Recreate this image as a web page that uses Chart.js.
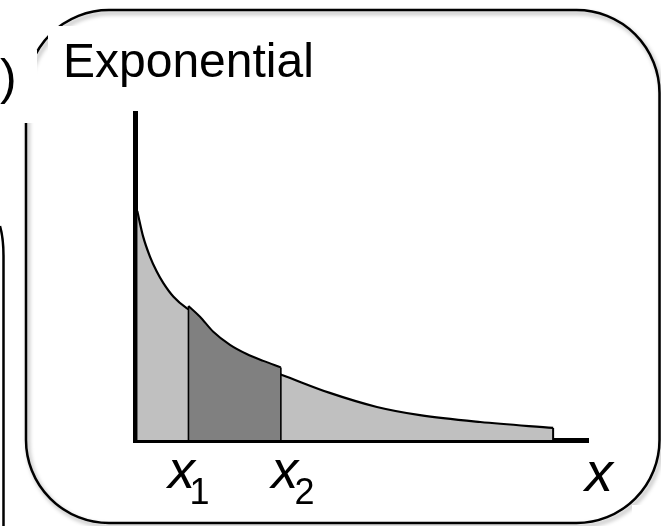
<!DOCTYPE html>
<html>
<head>
<meta charset="utf-8">
<script src="https://cdn.jsdelivr.net/npm/chart.js@4/dist/chart.umd.min.js"></script>
<style>
  html, body { margin: 0; padding: 0; background: #fff; }
  #wrap { position: relative; width: 661px; height: 526px; overflow: hidden; background: #fff;
          font-family: "Liberation Sans", Arial, sans-serif; color: #000; }
  #deco { position: absolute; left: 0; top: 0; z-index: 1; }
  #cv { position: absolute; left: 0; top: 0; z-index: 2; }
  .mask { position: absolute; background: #fff; z-index: 3; }
  .txt { position: absolute; z-index: 4; line-height: 1; white-space: nowrap; }
  .lbl { font-style: italic; }
  .sub { font-style: normal; }
</style>
</head>
<body>
<div id="wrap">
  <svg id="deco" width="661" height="526" viewBox="0 0 661 526">
    <defs>
      <filter id="sh" x="-5%" y="-5%" width="110%" height="110%">
        <feDropShadow dx="2" dy="3" stdDeviation="2" flood-color="#000" flood-opacity="0.35"/>
      </filter>
    </defs>
    <rect x="26" y="10" width="633.5" height="513" rx="83" ry="83" fill="none" stroke="#000" stroke-width="2.5" filter="url(#sh)"/>
    <path d="M 0 226 Q 3.5 238 3.5 256 L 3.5 526" fill="none" stroke="#000" stroke-width="2.5"/>
    <rect x="632" y="505" width="29" height="21" fill="#fff"/>
  </svg>
  <canvas id="cv" width="661" height="526"></canvas>
  <div class="mask" style="left:0;top:50px;width:37px;height:73px"></div>
  <div class="mask" style="left:48px;top:26px;width:280px;height:80px"></div>
  <div class="txt" style="left:0px;top:52px;font-size:50px">)</div>
  <div class="txt" id="title" style="left:63px;top:37px;font-size:48px">Exponential</div>
  <div id="labels"></div>
</div>
<script>
// ---- data ----
// light (whole) density curve
const curveX = [0.05, 0.18, 0.33, 0.48, 0.63, 0.85, 1.14, 1.18, 1.70, 2.40, 3.22, 3.26, 4.30, 5.34, 6.29, 7.62, 9.23];
const curveY = [0.700, 0.622, 0.561, 0.515, 0.479, 0.438, 0.403, 0.400, 0.318, 0.255, 0.200, 0.198, 0.144, 0.101, 0.076, 0.055, 0.037];
// dark slice between x1 and x2
const darkX = [1.18, 1.435, 1.728, 2.097, 2.466, 2.832, 3.22];
const darkY = [0.410, 0.377, 0.331, 0.291, 0.263, 0.242, 0.222];
const x1 = 1.18;
const x2 = 3.22;
const xEnd = 9.23;
const tickValues = [x1, x2, 10];
const tickMain = ['x', 'x', 'x'];
const tickSub = ['1', '2', ''];

const curve = curveX.map((x, i) => ({x: x, y: curveY[i]}));
const dark = darkX.map((x, i) => ({x: x, y: darkY[i]}));

const chart = new Chart(document.getElementById('cv'), {
  type: 'line',
  data: {
    datasets: [
      { data: curve, order: 5, fill: 'origin', backgroundColor: '#c0c0c0',
        borderColor: '#000', borderWidth: 2.2, pointRadius: 0, cubicInterpolationMode: 'monotone' },
      { data: dark, order: 4, fill: 'origin', backgroundColor: '#808080',
        borderColor: '#000', borderWidth: 2, pointRadius: 0, cubicInterpolationMode: 'monotone' },
      { data: [{x: x1, y: 0}, {x: x1, y: darkY[0]}], order: 1, fill: false,
        borderColor: '#000', borderWidth: 1.6, pointRadius: 0, tension: 0 },
      { data: [{x: x2, y: 0}, {x: x2, y: darkY[darkY.length - 1]}], order: 1, fill: false,
        borderColor: '#000', borderWidth: 1.6, pointRadius: 0, tension: 0 },
      { data: [{x: xEnd, y: 0}, {x: xEnd, y: curveY[curveY.length - 1]}], order: 1, fill: false,
        borderColor: '#000', borderWidth: 2, pointRadius: 0, tension: 0 }
    ]
  },
  options: {
    responsive: false,
    animation: false,
    devicePixelRatio: 1,
    layout: { padding: { left: 135, right: 73, top: 113, bottom: 86 } },
    plugins: { legend: { display: false }, tooltip: { enabled: false }, title: { display: false } },
    scales: {
      x: { type: 'linear', min: 0, max: 10, z: 1,
           grid: { display: false, drawTicks: false },
           ticks: { display: false },
           border: { display: true, color: '#000', width: 5 } },
      y: { type: 'linear', min: 0, max: 1, z: 1,
           grid: { display: false, drawTicks: false },
           ticks: { display: false },
           border: { display: true, color: '#000', width: 5 } }
    }
  }
});

// axis labels placed from the x scale
const labelStyle = [
  {dx: -20.5, top: 442, size: 54, subDx: 1, subTop: 473.5, subSize: 36},
  {dx: -9.5, top: 442, size: 54, subDx: 13.6, subTop: 473.5, subSize: 36},
  {dx: -3, top: 444, size: 56, subDx: 0, subTop: 0, subSize: 0}
];
const host = document.getElementById('labels');
tickValues.forEach((v, i) => {
  const px = chart.scales.x.getPixelForValue(v);
  const o = labelStyle[i];
  const d = document.createElement('div');
  d.className = 'txt lbl';
  d.style.left = (px + o.dx) + 'px';
  d.style.top = o.top + 'px';
  d.style.fontSize = o.size + 'px';
  d.textContent = tickMain[i];
  host.appendChild(d);
  if (tickSub[i]) {
    const s = document.createElement('div');
    s.className = 'txt sub';
    s.style.left = (px + o.subDx) + 'px';
    s.style.top = o.subTop + 'px';
    s.style.fontSize = o.subSize + 'px';
    s.textContent = tickSub[i];
    host.appendChild(s);
  }
});
</script>
</body>
</html>
